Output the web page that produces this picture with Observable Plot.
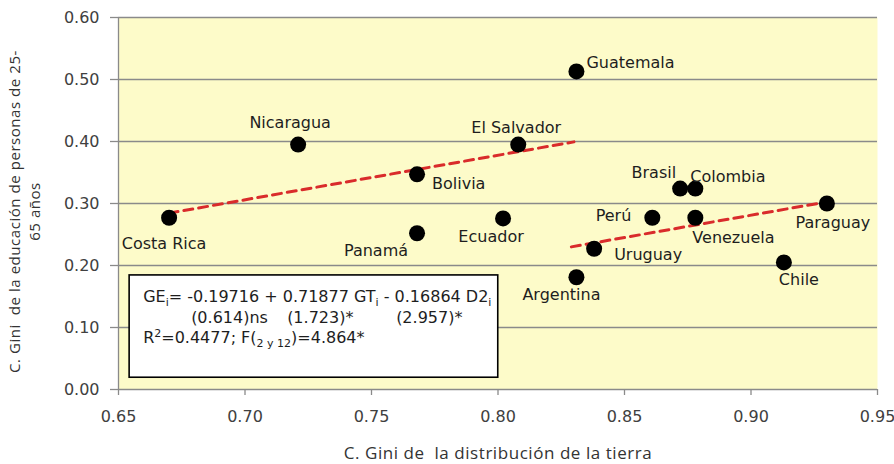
<!DOCTYPE html>
<html>
<head>
<meta charset="utf-8">
<script src="https://cdn.jsdelivr.net/npm/d3@7"></script>
<script src="https://cdn.jsdelivr.net/npm/@observablehq/plot@0.6"></script>
<style>
  body { margin: 0; background: #ffffff; }
  #chart { width: 894px; height: 464px; }
</style>
</head>
<body>
<div id="chart"></div>
<script>
// Coeficiente de Gini de la tierra vs. Gini de la educación (25-65 años)
const countries = ["Costa Rica", "Nicaragua", "Bolivia", "Panamá", "El Salvador", "Ecuador", "Guatemala",
  "Argentina", "Uruguay", "Perú", "Brasil", "Colombia", "Venezuela", "Paraguay", "Chile"];
const giniTierra = [0.670, 0.721, 0.768, 0.768, 0.808, 0.802, 0.831,
  0.831, 0.838, 0.861, 0.872, 0.878, 0.878, 0.930, 0.913];
const giniEducacion = [0.277, 0.395, 0.347, 0.252, 0.395, 0.276, 0.513,
  0.181, 0.227, 0.277, 0.324, 0.324, 0.277, 0.300, 0.205];

const xTicks = [0.65, 0.70, 0.75, 0.80, 0.85, 0.90, 0.95];
const yTicks = [0.00, 0.10, 0.20, 0.30, 0.40, 0.50, 0.60];

// Estimated model: GE = b0 + b1*GT + b2*D2
const intercept = -0.19716;
const slopeTierra = 0.71877;
const slopeD2 = -0.16864;
// Ranges of GT over which each fitted line is drawn (D2 = 0 and D2 = 1)
const fitGroups = [0, 1];
const fitFrom = [0.670, 0.829];
const fitTo = [0.830, 0.930];

const xTitle = "C. Gini de  la distribución de la tierra";
const yTitle = "C. Gini  de la educación de personas de 25-\n65 años";

// Label placement around each dot (screen offsets)
const labelStyle = {
  "Costa Rica":  {dx: -5,  dy: 26,  anchor: "middle"},
  "Nicaragua":   {dx: -8,  dy: -22, anchor: "middle"},
  "Bolivia":     {dx: 15,  dy: 10,  anchor: "start"},
  "Panamá":      {dx: -9,  dy: 18,  anchor: "end"},
  "El Salvador": {dx: -2,  dy: -17, anchor: "middle"},
  "Ecuador":     {dx: -12, dy: 18,  anchor: "middle"},
  "Guatemala":   {dx: 10,  dy: -9,  anchor: "start"},
  "Argentina":   {dx: -15, dy: 18,  anchor: "middle"},
  "Uruguay":     {dx: 20,  dy: 6,   anchor: "start"},
  "Perú":        {dx: -21, dy: -2,  anchor: "end"},
  "Brasil":      {dx: -4,  dy: -16, anchor: "end"},
  "Colombia":    {dx: -5,  dy: -12, anchor: "start"},
  "Venezuela":   {dx: -3,  dy: 20,  anchor: "start"},
  "Paraguay":    {dx: 6,   dy: 19,  anchor: "middle"},
  "Chile":       {dx: 15,  dy: 17,  anchor: "middle"}
};

const points = countries.map((c, i) => ({pais: c, gt: giniTierra[i], ge: giniEducacion[i]}));
const fitLines = fitGroups.flatMap((d2, i) => [fitFrom[i], fitTo[i]].map(gt => ({
  d2, gt, ge: intercept + slopeTierra * gt + slopeD2 * d2
})));

// Equation box extent, in data units
const eqBox = [{x1: 0.6544, x2: 0.8001, y1: 0.019, y2: 0.184}];

const gridColor = "#8a8a8a";
const tickText = "#404040";

const plot = Plot.plot({
  width: 894,
  height: 464,
  marginLeft: 118,
  marginRight: 17,
  marginTop: 17,
  marginBottom: 75,
  style: {fontFamily: "DejaVu Sans", fontSize: "16px", background: "#ffffff", color: tickText},
  x: {domain: [0.65, 0.95]},
  y: {domain: [0, 0.6]},
  marks: [
    Plot.frame({fill: "#fdfbc9", stroke: null}),
    Plot.gridY(yTicks, {stroke: gridColor, strokeOpacity: 1, strokeWidth: 1.3}),
    Plot.ruleX([0.65], {stroke: gridColor, strokeWidth: 1.3}),
    Plot.axisX(xTicks, {tickFormat: d3.format(".2f"), tickSize: 6, tickPadding: 15,
      stroke: gridColor, strokeWidth: 1.3, fill: tickText, label: null, fontSize: 16}),
    Plot.axisY(yTicks, {tickFormat: d3.format(".2f"), tickSize: 8, tickPadding: 11,
      stroke: gridColor, strokeWidth: 1.3, fill: tickText, label: null, fontSize: 16}),
    Plot.line(fitLines, {x: "gt", y: "ge", z: "d2", stroke: "#d92b2b", strokeWidth: 3,
      strokeDasharray: "9,6"}),
    Plot.dot(points, {x: "gt", y: "ge", r: 8, fill: "#000000", stroke: null}),
    ...countries.map(c => Plot.text(points.filter(d => d.pais === c), {
      x: "gt", y: "ge", text: "pais",
      dx: labelStyle[c].dx, dy: labelStyle[c].dy, textAnchor: labelStyle[c].anchor,
      fontSize: 16, fill: "#1e1e1e", fontFamily: "DejaVu Sans"
    })),
    Plot.rect(eqBox, {x1: "x1", x2: "x2", y1: "y1", y2: "y2", fill: "#ffffff",
      stroke: "#000000", strokeWidth: 1.6}),
    Plot.text([xTitle], {frameAnchor: "bottom", dy: 69, textAnchor: "middle",
      fontFamily: "Open Sans", fontSize: 17, fill: "#333333"}),
    Plot.text([yTitle], {frameAnchor: "left", textAnchor: "middle", lineAnchor: "middle",
      rotate: -90, dx: -95, dy: 8, lineHeight: 1.3,
      fontFamily: "Open Sans", fontSize: 15, fill: "#333333"})
  ]
});

document.getElementById("chart").append(plot);

// Slightly looser tracking on the axis titles
d3.select(plot).selectAll("text")
  .filter(function () { return this.textContent.startsWith("C. Gini"); })
  .attr("letter-spacing", "0.55px");

// Regression equation written inside the box, with sub- and superscripts
const sx = plot.scale("x"), sy = plot.scale("y");
const bx = sx.apply(eqBox[0].x1), by = sy.apply(eqBox[0].y2);
const eq = d3.select(plot).append("g")
  .attr("font-family", "DejaVu Sans")
  .attr("font-size", 16)
  .attr("text-anchor", "start")
  .attr("fill", "#1e1e1e");

function sub(t, s) {
  t.append("tspan").attr("font-size", 11).attr("dy", 4).text(s);
  return t.append("tspan").attr("dy", -4);
}
function sup(t, s) {
  t.append("tspan").attr("font-size", 11).attr("dy", -6).text(s);
  return t.append("tspan").attr("dy", 6);
}

const l1 = eq.append("text").attr("x", bx + 14).attr("y", by + 27);
l1.append("tspan").text("GE");
sub(l1, "i").text("= -0.19716 + 0.71877 GT");
sub(l1, "i").text(" - 0.16864 D2");
sub(l1, "i");

const l2 = eq.append("text").attr("y", by + 48);
l2.append("tspan").attr("x", bx + 62).text("(0.614)ns");
l2.append("tspan").attr("x", bx + 158).text("(1.723)*");
l2.append("tspan").attr("x", bx + 267).text("(2.957)*");

const l3 = eq.append("text").attr("x", bx + 14).attr("y", by + 68);
l3.append("tspan").text("R");
sup(l3, "2").text("=0.4477; F(");
sub(l3, "2 y 12").text(")=4.864*");
</script>
</body>
</html>
